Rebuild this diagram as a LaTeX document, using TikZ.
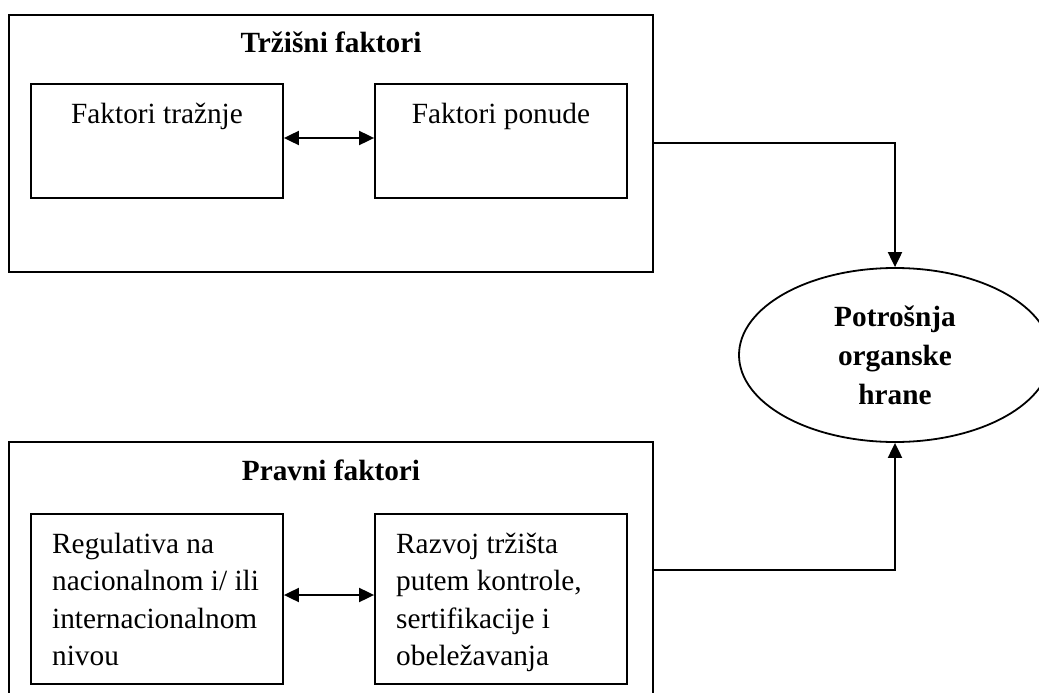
\documentclass[tikz,border=0pt]{standalone}
\usepackage{fontspec}
\setmainfont{Liberation Serif}
\usetikzlibrary{shapes.geometric,arrows.meta}
\begin{document}
\begin{tikzpicture}[x=1pt,y=-1pt,
  outerbox/.style={draw,line width=2.1pt,rectangle,inner sep=0pt,minimum width=644pt},
  innerbox/.style={draw,line width=1.8pt,rectangle,inner sep=0pt,minimum width=252pt},
  txt/.style={font=\fontsize{29.3}{37.5}\selectfont,inner sep=0pt},
  title/.style={font=\fontsize{29.3}{37.5}\selectfont\bfseries,inner sep=0pt,anchor=base},
  link/.style={line width=2pt,-{Triangle[length=15pt,width=14pt]}},
  twoway/.style={line width=1.9pt,{Triangle[length=15pt,width=14pt]}-{Triangle[length=15pt,width=14pt]}}]
\useasboundingbox (0,0) rectangle (1039,693);
\clip (0,0) rectangle (1039,693);

% market factors group
\node[outerbox,minimum height=257pt] (market) at (331,143.5) {};
\node[title] (markettitle) at (331,53) {Tržišni faktori};
\node[innerbox,minimum height=114pt] (demand) at (157,141) {};
\node[innerbox,minimum height=114pt] (supply) at (501,141) {};
\node[txt,anchor=base] (demandtxt) at (157,123) {Faktori tražnje};
\node[txt,anchor=base] (supplytxt) at (501,123) {Faktori ponude};

% legal factors group
\node[outerbox,minimum height=266pt] (legal) at (331,575) {};
\node[title] (legaltitle) at (331,480) {Pravni faktori};
\node[innerbox,minimum height=170pt] (regul) at (157,599) {};
\node[innerbox,minimum height=170pt] (control) at (501,599) {};
\node[txt,anchor=north west,align=left] (regultxt) at (52,526.75)
  {\strut Regulativa na\\nacionalnom i/ ili\\internacionalnom\\nivou};
\node[txt,anchor=north west,align=left] (controltxt) at (396,526.75)
  {\strut Razvoj tržišta\\putem kontrole,\\sertifikacije i\\obeležavanja};

% consumption
\node[draw,ellipse,line width=1.8pt,inner sep=0pt,minimum width=312pt,minimum height=174pt,
  align=center,font=\fontsize{29.3}{39}\selectfont\bfseries] (consumption) at (895,355)
  {Potrošnja\\organske\\hrane};

% connectors
\draw[twoway] (demand.east |- 0,138) -- (supply.west |- 0,138);
\draw[twoway] (regul.east |- 0,595) -- (control.west |- 0,595);
\draw[link] (market.east |- 0,143) -| (consumption.north);
\draw[link] (legal.east |- 0,570) -| (consumption.south);
\end{tikzpicture}
\end{document}
